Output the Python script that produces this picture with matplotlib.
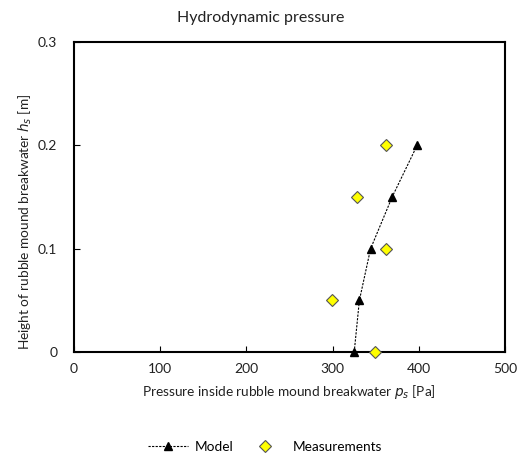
import matplotlib
matplotlib.use("Agg")
import matplotlib.pyplot as plt
from matplotlib.lines import Line2D

plt.rcParams['font.family'] = ['Lato', 'DejaVu Sans']

# Model prediction
model_pressure = [325, 331, 344, 369, 398]
model_height = [0.0, 0.05, 0.10, 0.15, 0.20]

# Measured pressures
meas_pressure = [349, 299, 362, 328, 362]
meas_height = [0.0, 0.05, 0.10, 0.15, 0.20]

x_ticks = [0, 100, 200, 300, 400, 500]
y_ticks = [0, 0.1, 0.2, 0.3]
y_tick_labels = ["0", "0.1", "0.2", "0.3"]

fig = plt.figure(figsize=(5.17, 4.55), dpi=100)
ax = fig.add_axes([0.143, 0.226, 0.834, 0.682])

ax.plot(model_pressure, model_height, linestyle=(0, (2, 1.2)), color='black',
        linewidth=0.8, marker='^', markersize=6, markerfacecolor='black',
        markeredgecolor='black', clip_on=False, zorder=3)
ax.plot(meas_pressure, meas_height, linestyle='none', marker='D', markersize=6,
        markerfacecolor='#ffff00', markeredgecolor='#555555', markeredgewidth=0.8,
        clip_on=False, zorder=4)

ax.set_xlim(0, 500)
ax.set_ylim(0, 0.3)
ax.set_xticks(x_ticks)
ax.set_yticks(y_ticks)
ax.set_yticklabels(y_tick_labels)
ax.tick_params(direction='in', length=4, width=0.8, labelsize=10,
               colors='black', labelcolor='#222222', pad=8)
ax.tick_params(axis='y', pad=12)
for s in ax.spines.values():
    s.set_linewidth(1.5)

fig.text(0.505, 0.96, "Hydrodynamic pressure", fontsize=11.5, ha='center',
         va='center', color='#222222')
ax.set_xlabel("Pressure inside rubble mound breakwater $p_s$ [Pa]", fontsize=9.8,
              color='#222222')
ax.xaxis.set_label_coords(0.498, -0.10)
ax.set_ylabel("Height of rubble mound breakwater $h_s$ [m]", fontsize=9.8,
              color='#222222')
ax.yaxis.set_label_coords(-0.093, 0.42)

handles = [
    Line2D([], [], linestyle=(0, (2, 1.2)), color='black', linewidth=0.8,
           marker='^', markersize=6),
    Line2D([], [], linestyle='none', marker='D', markersize=6,
           markerfacecolor='#ffff00', markeredgecolor='#555555', markeredgewidth=0.8),
]
fig.legend(handles, ["Model", "Measurements"], loc='center',
           bbox_to_anchor=(0.512, 0.018), ncol=2, frameon=False, fontsize=9.8,
           handlelength=3, handletextpad=0.5, columnspacing=0.8, borderaxespad=0)

fig.savefig("out.png", dpi=100)
